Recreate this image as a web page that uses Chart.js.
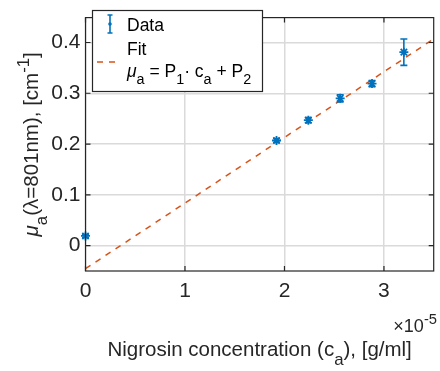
<!DOCTYPE html>
<html>
<head>
<meta charset="utf-8">
<script src="https://cdn.jsdelivr.net/npm/chart.js@4.4.1/dist/chart.umd.min.js"></script>
<style>
html, body { margin: 0; padding: 0; background: #fff; }
</style>
</head>
<body>
<canvas id="chart" width="440" height="371"></canvas>
<script>
// measured absorption of nigrosin vs concentration (x in g/ml)
const concentration = [0, 1.92e-5, 2.24e-5, 2.56e-5, 2.88e-5, 3.2e-5];
const muA = [0.019, 0.207, 0.247, 0.290, 0.319, 0.381];
const muErr = [0.003, 0.004, 0.005, 0.007, 0.006, 0.026];
const fitX = [0, 3.5e-5];
const fitY = [-0.0455, 0.407];
const xTicks = [0, 1e-5, 2e-5, 3e-5];
const yTicks = [0, 0.1, 0.2, 0.3, 0.4];

const FONT = '"Liberation Sans", Arial, Helvetica, sans-serif';
const BLUE = '#0072BD';
const ORANGE = '#D95319';
const INK = '#262626';

function fontFor(s, size) {
    const sz = s.k ? size * 0.82 : size;
    return (s.i ? 'italic ' : '') + sz + 'px ' + FONT;
}
function richWidth(ctx, segs, size) {
    let w = 0;
    for (const s of segs) {
        ctx.font = fontFor(s, size);
        w += ctx.measureText(s.t).width;
    }
    return w;
}
function drawRich(ctx, segs, x, y, size, align) {
    const w = richWidth(ctx, segs, size);
    let cx = align === 'center' ? x - w / 2 : align === 'right' ? x - w : x;
    ctx.textAlign = 'left';
    ctx.textBaseline = 'alphabetic';
    for (const s of segs) {
        ctx.font = fontFor(s, size);
        const dy = s.k === 'sub' ? size * 0.42 : s.k === 'sup' ? -size * 0.45 : 0;
        ctx.fillText(s.t, cx, y + dy);
        cx += ctx.measureText(s.t).width;
    }
}

const errorBars = {
    id: 'errorBars',
    afterDatasetsDraw(chart) {
        const ctx = chart.ctx;
        const xs = chart.scales.x, ys = chart.scales.y;
        ctx.save();
        ctx.strokeStyle = BLUE;
        ctx.lineWidth = 1.6;
        concentration.forEach((c, i) => {
            const px = xs.getPixelForValue(c);
            const y1 = ys.getPixelForValue(muA[i] - muErr[i]);
            const y2 = ys.getPixelForValue(muA[i] + muErr[i]);
            ctx.beginPath();
            ctx.moveTo(px, y1); ctx.lineTo(px, y2);
            ctx.moveTo(px - 3.5, y1); ctx.lineTo(px + 3.5, y1);
            ctx.moveTo(px - 3.5, y2); ctx.lineTo(px + 3.5, y2);
            ctx.stroke();
        });
        ctx.restore();
    }
};

const frame = {
    id: 'frame',
    afterDraw(chart) {
        const ctx = chart.ctx;
        const { left, right, top, bottom } = chart.chartArea;
        const xs = chart.scales.x, ys = chart.scales.y;
        ctx.save();
        // box with inward ticks
        ctx.strokeStyle = INK;
        ctx.lineWidth = 1.2;
        ctx.strokeRect(left, top, right - left, bottom - top);
        ctx.beginPath();
        xTicks.forEach(v => {
            const p = xs.getPixelForValue(v);
            ctx.moveTo(p, bottom); ctx.lineTo(p, bottom - 5);
            ctx.moveTo(p, top); ctx.lineTo(p, top + 5);
        });
        yTicks.forEach(v => {
            const p = ys.getPixelForValue(v);
            ctx.moveTo(left, p); ctx.lineTo(left + 5, p);
            ctx.moveTo(right, p); ctx.lineTo(right - 5, p);
        });
        ctx.stroke();

        // legend
        ctx.fillStyle = '#fff';
        ctx.fillRect(92.5, 10.5, 170, 81);
        ctx.strokeStyle = INK;
        ctx.lineWidth = 1.2;
        ctx.strokeRect(92.5, 10.5, 170, 81);
        ctx.strokeStyle = BLUE;
        ctx.lineWidth = 1.6;
        ctx.beginPath();
        ctx.moveTo(110, 15); ctx.lineTo(110, 33);
        ctx.moveTo(107.5, 15); ctx.lineTo(112.5, 15);
        ctx.moveTo(107.5, 33); ctx.lineTo(112.5, 33);
        ctx.stroke();
        ctx.fillStyle = BLUE;
        ctx.beginPath();
        ctx.arc(110, 24, 1.8, 0, Math.PI * 2);
        ctx.fill();
        ctx.strokeStyle = ORANGE;
        ctx.setLineDash([6, 6]);
        ctx.beginPath();
        ctx.moveTo(97, 62); ctx.lineTo(120, 62);
        ctx.stroke();
        ctx.setLineDash([]);

        ctx.fillStyle = '#000';
        drawRich(ctx, [{ t: 'Data' }], 127, 31, 17.5, 'left');
        drawRich(ctx, [{ t: 'Fit' }], 127, 55, 17.5, 'left');
        drawRich(ctx, [
            { t: 'μ', i: true }, { t: 'a', k: 'sub' }, { t: ' = P' }, { t: '1', k: 'sub' },
            { t: '· c' }, { t: 'a', k: 'sub' }, { t: ' + P' }, { t: '2', k: 'sub' }
        ], 127, 77, 17.5, 'left');

        // axis titles
        ctx.fillStyle = INK;
        drawRich(ctx, [
            { t: 'Nigrosin concentration (c' }, { t: 'a', k: 'sub' }, { t: '), [g/ml]' }
        ], (left + right) / 2, 356, 20.5, 'center');
        drawRich(ctx, [{ t: '×10' }, { t: '-5', k: 'sup' }], 437, 332, 18, 'right');
        ctx.translate(38, (top + bottom) / 2);
        ctx.rotate(-Math.PI / 2);
        drawRich(ctx, [
            { t: 'μ', i: true }, { t: 'a', k: 'sub' }, { t: '(λ=801nm), [cm' },
            { t: '-1', k: 'sup' }, { t: ']' }
        ], 0, 0, 20.5, 'center');
        ctx.restore();
    }
};

const ctx = document.getElementById('chart').getContext('2d');
new Chart(ctx, {
    type: 'scatter',
    data: {
        datasets: [
            {
                label: 'Data',
                data: concentration.map((c, i) => ({ x: c, y: muA[i] })),
                showLine: false,
                pointStyle: 'star',
                pointRadius: 4.5,
                pointBorderColor: BLUE,
                pointBackgroundColor: BLUE,
                pointBorderWidth: 1.8,
                clip: false,
            },
            {
                label: 'Fit',
                data: fitX.map((x, i) => ({ x: x, y: fitY[i] })),
                showLine: true,
                borderColor: ORANGE,
                borderWidth: 1.5,
                borderDash: [6, 6],
                pointRadius: 0,
            },
        ],
    },
    options: {
        responsive: false,
        animation: false,
        layout: { padding: { left: 0, right: 1.5, top: 4, bottom: 0 } },
        plugins: { legend: { display: false }, tooltip: { enabled: false } },
        scales: {
            x: {
                type: 'linear',
                min: 0,
                max: 3.5e-5,
                afterBuildTicks: s => { s.ticks = xTicks.map(v => ({ value: v })); },
                afterFit: s => { s.height = 100; },
                grid: { color: '#dadada', lineWidth: 1.5, drawTicks: false },
                border: { display: false },
                ticks: {
                    padding: 8,
                    color: INK,
                    font: { family: FONT, size: 21 },
                    callback: v => String(Math.round(v / 1e-5)),
                },
            },
            y: {
                min: -0.05,
                max: 0.449,
                afterBuildTicks: s => { s.ticks = yTicks.map(v => ({ value: v })); },
                afterFit: s => { s.width = 85.5; },
                grid: { color: '#dadada', lineWidth: 1.5, drawTicks: false },
                border: { display: false },
                ticks: {
                    padding: 5,
                    color: INK,
                    font: { family: FONT, size: 21 },
                    callback: v => (v === 0 ? '0' : v.toFixed(1)),
                },
            },
        },
    },
    plugins: [errorBars, frame],
});
</script>
</body>
</html>
